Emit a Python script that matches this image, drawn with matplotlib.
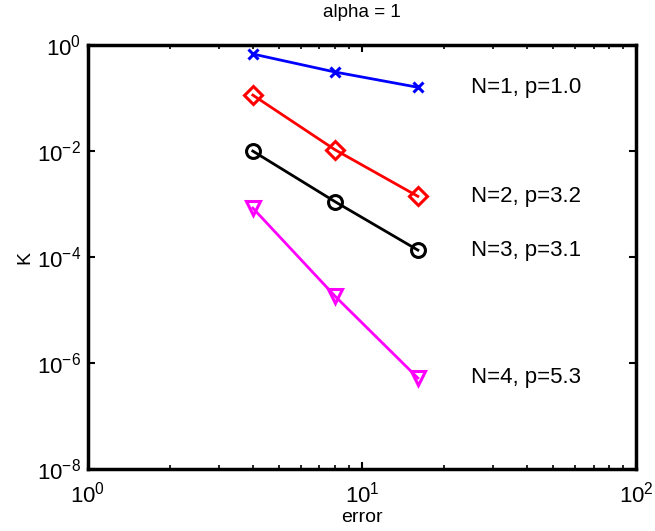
import matplotlib
matplotlib.use('Agg')
import matplotlib.pyplot as plt

plt.rcParams['font.family'] = ['Liberation Sans', 'DejaVu Sans']

# -- data
err = [4, 8, 16]
K1 = [0.68, 0.31, 0.16]
K2 = [0.114, 0.0105, 0.0014]
K3 = [0.010, 0.0011, 0.000135]
K4 = [0.00084, 0.000018, 0.00000052]
labels = ['N=1, p=1.0', 'N=2, p=3.2', 'N=3, p=3.1', 'N=4, p=5.3']
label_x = 25

fig = plt.figure(figsize=(6.55, 5.31), dpi=100)
ax = fig.add_axes([0.134, 0.117, 0.837, 0.798])

series = [(K1, 'b', 'x', 7), (K2, 'r', 'D', 9), (K3, 'k', 'o', 10), (K4, '#ff00ff', 'v', 10)]
for (K, c, m, ms), lab in zip(series, labels):
    ax.loglog(err, K, color=c, marker=m, markersize=ms, markerfacecolor='none',
              markeredgewidth=2.2, linewidth=2)
    ax.text(label_x, K[-1], lab, fontsize=16, va='center', ha='left')

ax.set_xlim(1, 100)
ax.set_ylim(1e-8, 1)
ax.set_yticks([1e-8, 1e-6, 1e-4, 1e-2, 1])
ax.yaxis.set_minor_locator(plt.NullLocator())
ax.tick_params(which='both', direction='in', top=True, right=True, labelsize=16)
ax.tick_params(which='major', length=5, width=1.5)
ax.tick_params(which='minor', length=3, width=1.2)
ax.tick_params(axis='x', pad=9)
ax.tick_params(axis='y', pad=5)
for s in ax.spines.values():
    s.set_linewidth(2.5)

ax.set_xlabel('error', fontsize=14, labelpad=1)
ax.set_ylabel('K', fontsize=14, labelpad=2)
ax.set_title('alpha = 1', fontsize=13.5, pad=20)

fig.savefig('out.png', dpi=100)
